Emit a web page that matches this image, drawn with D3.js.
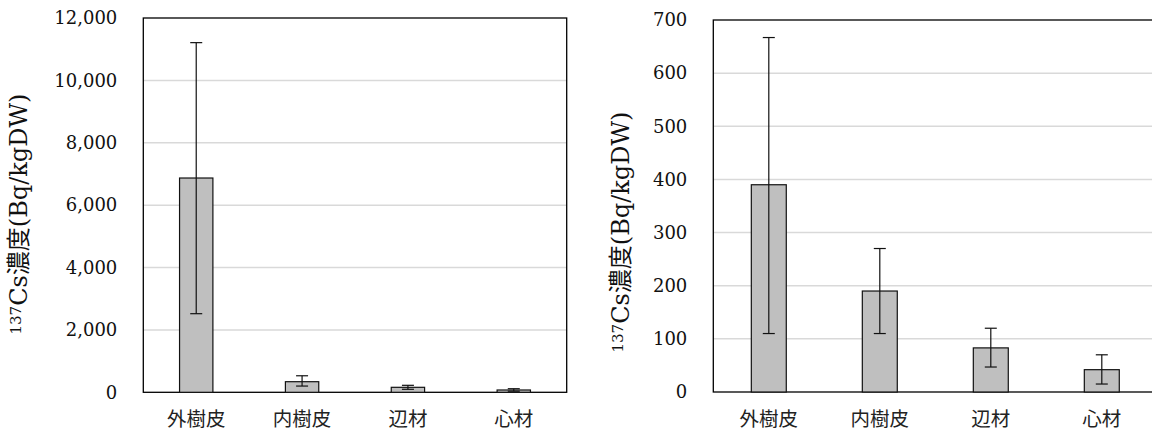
<!DOCTYPE html>
<html>
<head>
<meta charset="utf-8">
<style>
  body { margin: 0; background: #fff; }
  svg { display: block; background: #fff; }
  .tick-label { font-family: "DejaVu Serif", serif; font-size: 18px; fill: #111; }
  .cat-label { font-family: "Noto Sans CJK JP", sans-serif; font-size: 19.5px; fill: #222; }
  .grid line { stroke: #d9d9d9; stroke-width: 1.5px; }
  .ytitle { font-family: "DejaVu Serif", serif; font-size: 24px; fill: #111; }
</style>
</head>
<body>
<script src="https://cdnjs.cloudflare.com/ajax/libs/d3/7.8.5/d3.min.js"></script>
<svg width="1152" height="437"></svg>
<script>
var categories = ["外樹皮", "内樹皮", "辺材", "心材"];

// left panel
var leftMean = [6870, 340, 160, 74];
var leftLow  = [2520, 200, 96, 35];
var leftHigh = [11210, 530, 224, 115];
var leftTicks = [0, 2000, 4000, 6000, 8000, 10000, 12000];

// right panel
var rightMean = [390, 190, 83, 42];
var rightLow  = [110, 110, 47, 15];
var rightHigh = [667, 270, 120, 70];
var rightTicks = [0, 100, 200, 300, 400, 500, 600, 700];

var svg = d3.select("svg");

function panel(opt) {
  var g = svg.append("g");
  var x = d3.scaleBand().domain(categories).range([opt.left, opt.right]).padding(0);
  var y = d3.scaleLinear().domain([0, opt.max]).range([opt.bottom, opt.top]);
  var fmt = d3.format(",");

  // gridlines
  g.append("g").attr("class", "grid")
    .selectAll("line")
    .data(opt.ticks.filter(function(t) { return t > 0 && t < opt.max; }))
    .enter().append("line")
      .attr("x1", opt.left).attr("x2", opt.right)
      .attr("y1", function(d) { return y(d); })
      .attr("y2", function(d) { return y(d); });

  // frame
  g.append("rect")
    .attr("x", opt.left).attr("y", opt.top)
    .attr("width", opt.right - opt.left).attr("height", opt.bottom - opt.top)
    .attr("fill", "none").attr("stroke", "#000").attr("stroke-width", 1.3);

  // bars
  var bw = x.bandwidth() * 0.315;
  var data = categories.map(function(c, i) {
    return { cat: c, v: opt.mean[i], lo: opt.low[i], hi: opt.high[i] };
  });
  g.append("g").selectAll("rect")
    .data(data)
    .enter().append("rect")
      .attr("x", function(d) { return x(d.cat) + x.bandwidth() / 2 - bw / 2; })
      .attr("y", function(d) { return y(d.v); })
      .attr("width", bw)
      .attr("height", function(d) { return y(0) - y(d.v); })
      .attr("fill", "#bfbfbf")
      .attr("stroke", "#111")
      .attr("stroke-width", 1.2);

  // error bars
  var eb = g.append("g").attr("stroke", "#111").attr("stroke-width", 1.2)
    .selectAll("g").data(data).enter().append("g");
  eb.append("line")
    .attr("x1", function(d) { return x(d.cat) + x.bandwidth() / 2; })
    .attr("x2", function(d) { return x(d.cat) + x.bandwidth() / 2; })
    .attr("y1", function(d) { return y(d.lo); })
    .attr("y2", function(d) { return y(d.hi); });
  ["lo", "hi"].forEach(function(k) {
    eb.append("line")
      .attr("x1", function(d) { return x(d.cat) + x.bandwidth() / 2 - 6; })
      .attr("x2", function(d) { return x(d.cat) + x.bandwidth() / 2 + 6; })
      .attr("y1", function(d) { return y(d[k]); })
      .attr("y2", function(d) { return y(d[k]); });
  });

  // y tick labels
  g.append("g").selectAll("text")
    .data(opt.ticks)
    .enter().append("text")
      .attr("class", "tick-label")
      .attr("x", opt.left - 26)
      .attr("y", function(d) { return y(d); })
      .attr("dy", "0.35em")
      .attr("text-anchor", "end")
      .text(function(d) { return fmt(d); });

  // category labels
  g.append("g").selectAll("text")
    .data(categories)
    .enter().append("text")
      .attr("class", "cat-label")
      .attr("x", function(d) { return x(d) + x.bandwidth() / 2; })
      .attr("y", opt.bottom + 27)
      .attr("dy", "0.35em")
      .attr("text-anchor", "middle")
      .text(function(d) { return d; });

  // y title
  var t = g.append("text")
    .attr("class", "ytitle")
    .attr("transform", "translate(" + opt.titleX + "," + opt.titleY + ") rotate(-90)")
    .attr("text-anchor", "middle")
    .attr("dy", "0.35em");
  t.append("tspan").attr("font-size", "15px").attr("dy", "-0.2em").text("137");
  t.append("tspan").attr("dy", "0.25em").text("Cs");
  t.append("tspan").attr("font-family", "Noto Sans CJK JP").text("濃度");
  t.append("tspan").text("(Bq/kgDW)");
}

panel({ left: 143.3, right: 566.7, top: 18, bottom: 392.3, max: 12000,
        mean: leftMean, low: leftLow, high: leftHigh, ticks: leftTicks,
        titleX: 24, titleY: 214 });
panel({ left: 713.3, right: 1157.3, top: 20, bottom: 392, max: 700,
        mean: rightMean, low: rightLow, high: rightHigh, ticks: rightTicks,
        titleX: 626, titleY: 232 });
</script>
</body>
</html>
